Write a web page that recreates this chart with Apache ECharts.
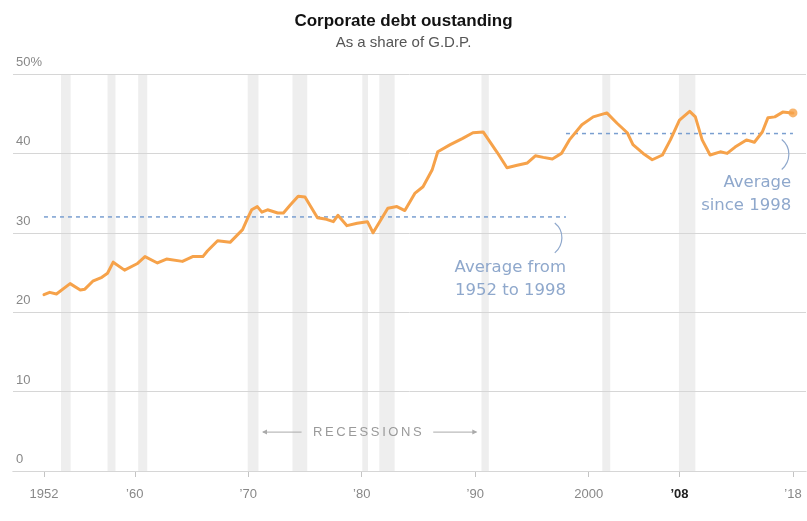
<!DOCTYPE html>
<html>
<head>
<meta charset="utf-8">
<script src="https://cdn.jsdelivr.net/npm/echarts@6/dist/echarts.min.js"></script>
<style>
html,body{margin:0;padding:0;background:#fff;}
#chart{width:807px;height:521px;}
</style>
</head>
<body>
<div id="chart"></div>
<script>
// ---- Data ----
const years = [1952.0,1952.5,1953.1,1954.3,1955.2,1955.6,1956.3,1957.1,1957.6,1958.1,1959.1,1960.2,1960.9,1962.0,1962.8,1964.2,1965.1,1966.0,1966.4,1967.3,1968.4,1969.5,1970.0,1970.3,1970.8,1971.2,1971.7,1972.6,1973.1,1973.7,1974.4,1975.0,1976.1,1976.9,1977.5,1977.9,1978.7,1979.6,1980.5,1981.0,1982.3,1983.1,1983.8,1984.7,1985.4,1986.2,1986.7,1987.8,1988.9,1989.8,1990.7,1991.9,1992.8,1993.7,1994.6,1995.3,1996.0,1996.8,1997.6,1998.3,1999.4,2000.4,2001.6,2002.5,2003.4,2003.9,2004.8,2005.6,2006.5,2007.2,2008.0,2008.9,2009.4,2010.0,2010.7,2011.6,2012.2,2012.9,2013.9,2014.6,2015.3,2015.8,2016.4,2017.1,2017.9,2018.0];
const debtShare = [22.2,22.5,22.3,23.6,22.8,22.9,23.9,24.4,24.9,26.3,25.3,26.1,27.0,26.2,26.7,26.4,27.0,27.0,27.7,29.0,28.8,30.4,32.0,32.9,33.3,32.6,32.9,32.5,32.5,33.5,34.6,34.5,31.9,31.7,31.4,32.2,30.9,31.2,31.4,30.0,33.1,33.3,32.8,35.0,35.8,37.9,40.2,41.1,41.9,42.6,42.7,40.2,38.2,38.5,38.8,39.7,39.5,39.3,40.0,41.7,43.6,44.6,45.1,43.8,42.6,41.1,40.0,39.2,39.8,41.7,44.2,45.3,44.6,41.7,39.8,40.2,40.0,40.8,41.7,41.4,42.7,44.5,44.6,45.2,45.1,45.1];

const recessionStart = [1953.5,1957.6,1960.3,1969.95,1973.9,1980.05,1981.55,1990.55,2001.2,2007.95];
const recessionEnd   = [1954.35,1958.3,1961.1,1970.9,1975.2,1980.55,1982.9,1991.2,2001.9,2009.4];

const avgEarlyPeriod = [1952, 1998];
const avgEarlyValue = 32.0;
const avgLatePeriod = [1998, 2018];
const avgLateValue = 42.5;

const tickYears = [1952,1960,1970,1980,1990,2000,2008,2018];
const tickLabels = ['1952','\u201960','\u201970','\u201980','\u201990','2000','\u201908','\u201918'];
const yTicks = [0,10,20,30,40,50];

// ---- Chart ----
const FONT = 'Liberation Sans, Arial, sans-serif';
const chart = echarts.init(document.getElementById('chart'), null, {renderer:'canvas'});

const lineData = years.map((y,i)=>[y, debtShare[i]]);
const recAreas = recessionStart.map((s,i)=>[{xAxis:s},{xAxis:recessionEnd[i]}]);

chart.setOption({
  animation:false,
  backgroundColor:'#fff',
  title:{
    text:'Corporate debt oustanding',
    subtext:'As a share of G.D.P.',
    left:'center', top:8, itemGap:5,
    textStyle:{fontFamily:FONT, fontSize:17, fontWeight:'bold', color:'#121212'},
    subtextStyle:{fontFamily:FONT, fontSize:15, color:'#555'}
  },
  grid:{left:13, right:1, top:74, bottom:50, containLabel:false},
  xAxis:{
    type:'value', min:1949.27, max:2019.15,
    splitLine:{show:false},
    axisLine:{show:true, lineStyle:{color:'#c4c4c4', width:1}},
    axisTick:{show:true, customValues:tickYears, length:6, lineStyle:{color:'#c4c4c4'}},
    axisLabel:{
      customValues:tickYears, margin:17,
      fontFamily:FONT, fontSize:13, color:'#888',
      formatter:function(v){
        const i = tickYears.indexOf(Math.round(v));
        if(i<0) return '';
        return tickYears[i]===2008 ? '{b|'+tickLabels[i]+'}' : tickLabels[i];
      },
      rich:{b:{fontFamily:FONT, fontSize:13, fontWeight:'bold', color:'#222'}}
    }
  },
  yAxis:{
    type:'value', min:0, max:50, interval:10, z:3,
    axisLine:{show:false}, axisTick:{show:false},
    splitLine:{show:true, lineStyle:{color:'#d6d6d6', width:1}},
    axisLabel:{
      inside:true, margin:3, verticalAlign:'bottom', padding:[0,0,5,0],
      fontFamily:FONT, fontSize:13, color:'#888',
      formatter:function(v){ return v===50 ? '50%' : String(v); }
    }
  },
  series:[
    {
      type:'line', name:'recessions', data:[], z:1, silent:true,
      markArea:{silent:true, itemStyle:{color:'#eeeeee'}, data:recAreas}
    },
    {
      type:'line', name:'avgEarly', z:4, symbol:'none', silent:true,
      data:[[avgEarlyPeriod[0],avgEarlyValue],[avgEarlyPeriod[1],avgEarlyValue]],
      lineStyle:{color:'#7a9fd0', width:1.5, type:[4,4]}
    },
    {
      type:'line', name:'avgLate', z:4, symbol:'none', silent:true,
      data:[[avgLatePeriod[0],avgLateValue],[avgLatePeriod[1],avgLateValue]],
      lineStyle:{color:'#7a9fd0', width:1.5, type:[4,4]}
    },
    {
      type:'line', name:'debt', z:5, symbol:'none', silent:true,
      data:lineData,
      lineStyle:{color:'#f6a24a', width:3, join:'round', cap:'round'}
    },
    {
      type:'scatter', name:'last', z:6, silent:true,
      data:[lineData[lineData.length-1]],
      symbolSize:9, itemStyle:{color:'#f6a24a'}
    }
  ]
});

// ---- Annotations positioned via the chart's own scales ----
function px(x,y){ return chart.convertToPixel({gridIndex:0},[x,y]); }
const annoColor = '#8fa8cc';
const ANNO_FONT = 'DejaVu Sans, sans-serif';
const g = [];

function curve(anchorYear, anchorVal){
  const a = px(anchorYear, anchorVal);
  return {type:'bezierCurve', z:10, silent:true,
    shape:{x1:a[0]-1, y1:a[1]+6, cpx1:a[0]+9, cpy1:a[1]+14, cpx2:a[0]+8, cpy2:a[1]+28, x2:a[0]-1, y2:a[1]+36},
    style:{stroke:annoColor, lineWidth:1.2, fill:null}};
}
g.push(curve(1997.1, avgEarlyValue));
g.push(curve(2017.1, avgLateValue));

const t1 = px(1998.0, 27.0);
g.push({type:'text', z:10, silent:true, x:t1[0], y:t1[1],
  style:{text:'Average from\n1952 to 1998', fill:annoColor, font:'16.5px '+ANNO_FONT, align:'right', verticalAlign:'top', lineHeight:23}});
const t2 = px(2017.85, 37.7);
g.push({type:'text', z:10, silent:true, x:t2[0], y:t2[1],
  style:{text:'Average\nsince 1998', fill:annoColor, font:'16.5px '+ANNO_FONT, align:'right', verticalAlign:'top', lineHeight:23}});

// Recessions label with arrows
const rc = px(1980.5, 4.9);
g.push({type:'text', z:10, silent:true, x:rc[0], y:rc[1],
  style:{text:'R\u2009E\u2009C\u2009E\u2009S\u2009S\u2009I\u2009O\u2009N\u2009S', fill:'#9a9a9a', font:'13px '+FONT, align:'center', verticalAlign:'middle'}});
const la = px(1971.3, 4.9), lb = px(1974.7, 4.9);
const ra = px(1986.3, 4.9), rb = px(1990.1, 4.9);
const arrowStyle = {stroke:'#aaa', lineWidth:1};
g.push({type:'line', z:10, silent:true, shape:{x1:la[0], y1:la[1], x2:lb[0], y2:lb[1]}, style:arrowStyle});
g.push({type:'line', z:10, silent:true, shape:{x1:ra[0], y1:ra[1], x2:rb[0], y2:rb[1]}, style:arrowStyle});
g.push({type:'polygon', z:10, silent:true, shape:{points:[[la[0]-1,la[1]],[la[0]+4,la[1]-2.5],[la[0]+4,la[1]+2.5]]}, style:{fill:'#aaa'}});
g.push({type:'polygon', z:10, silent:true, shape:{points:[[rb[0]+1,rb[1]],[rb[0]-4,rb[1]-2.5],[rb[0]-4,rb[1]+2.5]]}, style:{fill:'#aaa'}});

chart.setOption({graphic:{elements:g}});
</script>
</body>
</html>
